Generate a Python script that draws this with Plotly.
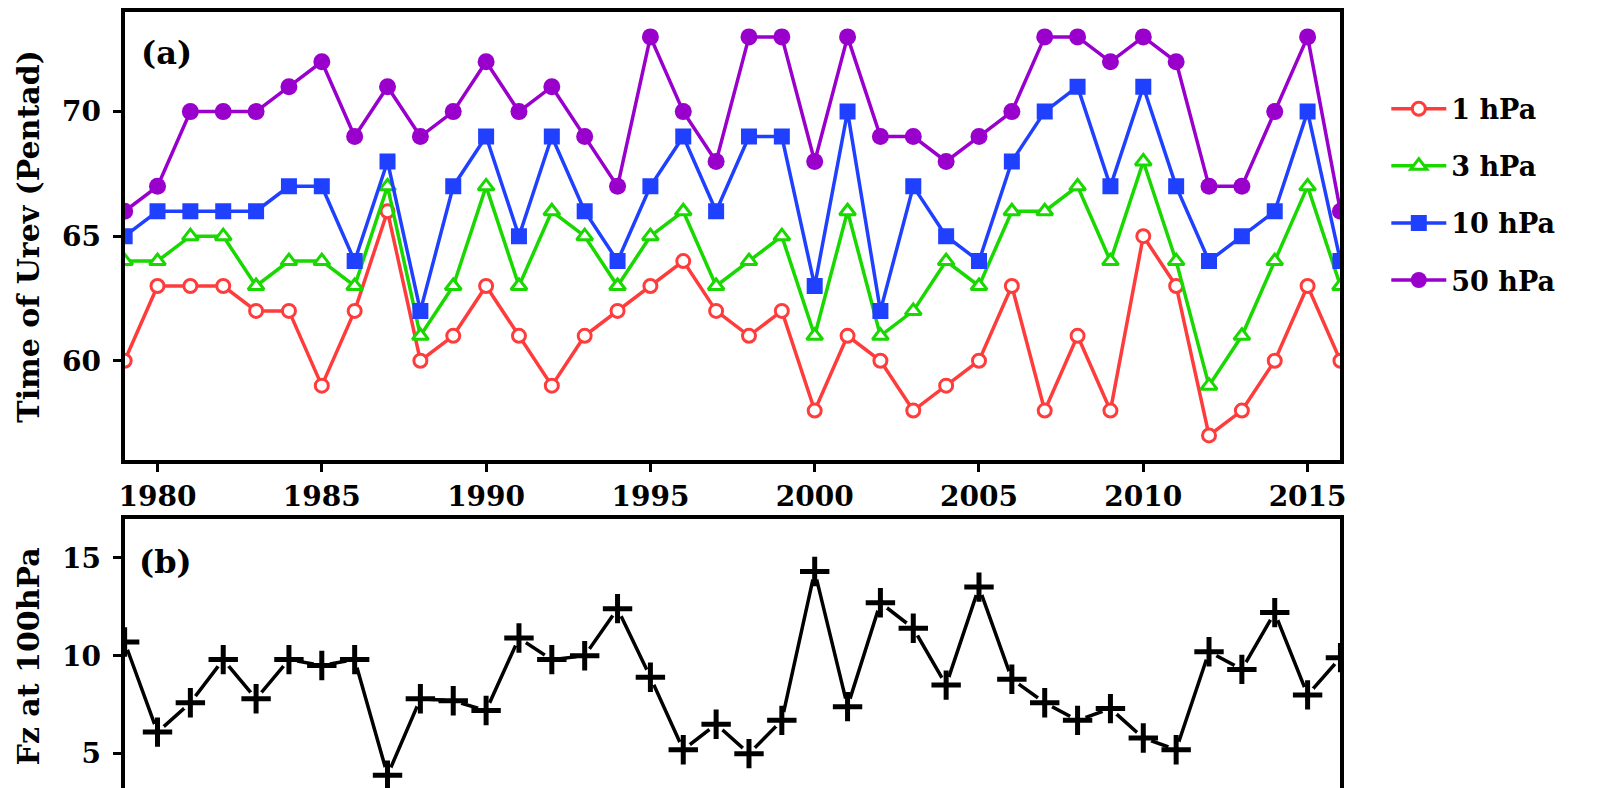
import plotly.graph_objects as go
from plotly.subplots import make_subplots

# Jahre
years = list(range(1979, 2017))

# Zeitpunkt der Umkehr (Pentade) je Druckniveau
urev_1hpa = [60, 63, 63, 63, 62, 62, 59, 62, 66, 60, 61, 63, 61, 59, 61, 62, 63, 64, 62,
             61, 62, 58, 61, 60, 58, 59, 60, 63, 58, 61, 58, 65, 63, 57, 58, 60, 63, 60]
urev_3hpa = [64, 64, 65, 65, 63, 64, 64, 63, 67, 61, 63, 67, 63, 66, 65, 63, 65, 66, 63,
             64, 65, 61, 66, 61, 62, 64, 63, 66, 66, 67, 64, 68, 64, 59, 61, 64, 67, 63]
urev_10hpa = [65, 66, 66, 66, 66, 67, 67, 64, 68, 62, 67, 69, 65, 69, 66, 64, 67, 69, 66,
              69, 69, 63, 70, 62, 67, 65, 64, 68, 70, 71, 67, 71, 67, 64, 65, 66, 70, 64]
urev_50hpa = [66, 67, 70, 70, 70, 71, 72, 69, 71, 69, 70, 72, 70, 71, 69, 67, 73, 70, 68,
              73, 73, 68, 73, 69, 69, 68, 69, 70, 73, 73, 72, 73, 72, 67, 67, 70, 73, 66]

# Fz bei 100 hPa
fz_100 = [10.7, 6.1, 7.6, 9.8, 7.8, 9.8, 9.5, 9.8, 3.9, 7.8, 7.7, 7.2, 10.9, 9.8, 10.0,
          12.4, 8.9, 5.2, 6.5, 5.0, 6.7, 14.3, 7.4, 12.7, 11.4, 8.5, 13.5, 8.8, 7.6, 6.7,
          7.3, 5.8, 5.2, 10.2, 9.3, 12.2, 8.0, 9.9]

xticks = [1980, 1985, 1990, 1995, 2000, 2005, 2010, 2015]
yticks_a = [60, 65, 70]
yticks_b = [5, 10, 15]

FONT = "DejaVu Serif"

fig = make_subplots(rows=2, cols=1, vertical_spacing=0.07)

series = [
    ("1 hPa", urev_1hpa, "#FF3C3C", "circle", "white", 13, 3),
    ("3 hPa", urev_3hpa, "#18D800", "triangle-up", "white", 14, 3),
    ("10 hPa", urev_10hpa, "#2040FF", "square", "#2040FF", 16, 0),
    ("50 hPa", urev_50hpa, "#9900CC", "circle", "#9900CC", 17, 0),
]
for name, vals, col, sym, fill, size, lw in series:
    fig.add_trace(go.Scatter(
        x=years, y=vals, name=name, mode="lines+markers",
        line=dict(color=col, width=3.5),
        marker=dict(symbol=sym, color=fill, size=size, line=dict(color=col, width=lw)),
        legendgroup=name,
    ), row=1, col=1)

# Panel b: Linie, weisse Luecken, Kreuze
fig.add_trace(go.Scatter(x=years, y=fz_100, mode="lines",
                         line=dict(color="black", width=3.5), showlegend=False), row=2, col=1)
fig.add_trace(go.Scatter(x=years, y=fz_100, mode="markers",
                         marker=dict(symbol="circle", color="white", size=17),
                         showlegend=False), row=2, col=1)
fig.add_trace(go.Scatter(x=years, y=fz_100, mode="markers",
                         marker=dict(symbol="cross-thin", size=21, color="black",
                                     line=dict(color="black", width=5)),
                         showlegend=False), row=2, col=1)

axis_style = dict(showline=True, mirror=True, linewidth=4, linecolor="black",
                  ticks="outside", ticklen=8, tickwidth=3, tickcolor="black",
                  showgrid=False, zeroline=False,
                  tickfont=dict(family=FONT, size=28, color="black", weight="bold"))

fig.update_xaxes(**axis_style)
fig.update_yaxes(**axis_style)

fig.update_xaxes(range=[1979, 2016], tickvals=xticks, domain=[0.0695, 0.8332], row=1, col=1)
fig.update_xaxes(range=[1979, 2016], tickvals=xticks, showticklabels=False, ticks="",
                 domain=[0.0695, 0.8332], row=2, col=1)
fig.update_yaxes(range=[56, 74], tickvals=yticks_a, domain=[0.427, 0.9975],
                 ticklabelstandoff=6, row=1, col=1)
fig.update_yaxes(range=[3, 17], tickvals=yticks_b, domain=[0.004, 0.353],
                 ticklabelstandoff=6, row=2, col=1)

# Achsentitel und Panelbeschriftungen
title_font = dict(family=FONT, size=30, color="black", weight="bold")
fig.add_annotation(text="Time of Urev (Pentad)", xref="paper", yref="paper",
                   x=0.009, y=0.712, xanchor="center", yanchor="middle",
                   textangle=-90, showarrow=False, font=title_font)
fig.add_annotation(text="Fz at 100hPa", xref="paper", yref="paper",
                   x=0.009, y=0.178, xanchor="center", yanchor="middle",
                   textangle=-90, showarrow=False, font=title_font)

fig.add_annotation(text="(a)", xref="paper", yref="paper", x=0.0785, y=0.9454,
                   xanchor="left", yanchor="middle", showarrow=False,
                   font=dict(family=FONT, size=32, color="black", weight="bold"))
fig.add_annotation(text="(b)", xref="paper", yref="paper", x=0.0775, y=0.2982,
                   xanchor="left", yanchor="middle", showarrow=False,
                   font=dict(family=FONT, size=32, color="black", weight="bold"))

fig.update_layout(
    width=1604, height=788,
    margin=dict(l=0, r=0, t=0, b=0),
    paper_bgcolor="white", plot_bgcolor="white",
    legend=dict(x=0.862, y=0.905, xanchor="left", yanchor="top",
                font=dict(family=FONT, size=27, color="black", weight="bold"),
                tracegroupgap=19, itemwidth=55, bgcolor="rgba(0,0,0,0)"),
)

fig.write_html("out.html")
